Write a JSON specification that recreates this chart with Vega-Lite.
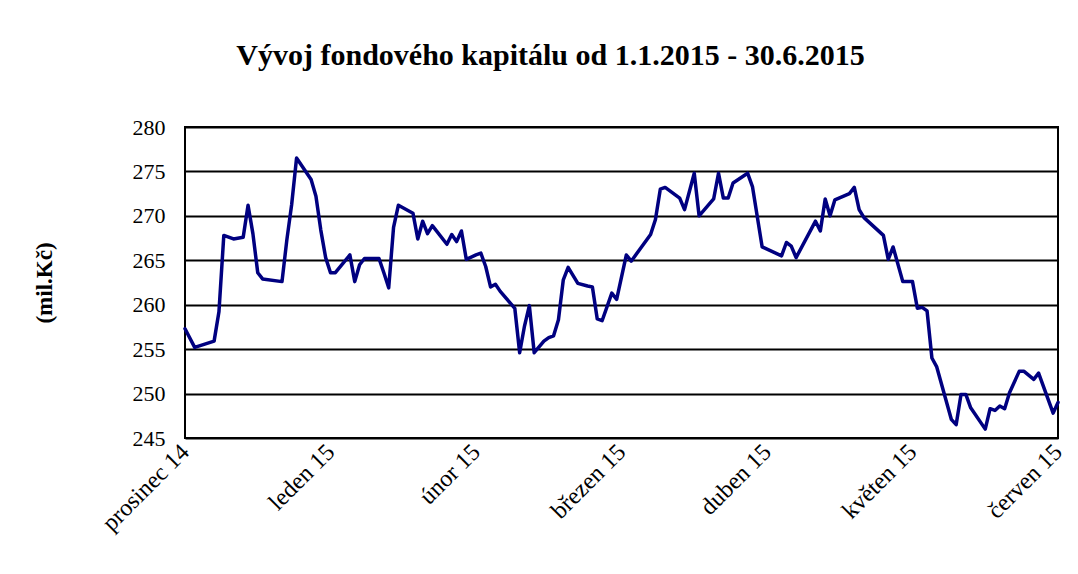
{
  "$schema": "https://vega.github.io/schema/vega-lite/v6.json",
  "width": 873,
  "height": 311,
  "autosize": {"type": "none"},
  "padding": {"left": 185, "top": 127, "right": 20, "bottom": 136},
  "background": "white",
  "title": {
    "text": "Vývoj fondového kapitálu od 1.1.2015 - 30.6.2015",
    "font": "Liberation Serif",
    "fontSize": 30,
    "fontWeight": "bold",
    "color": "black",
    "anchor": "middle",
    "frame": "group",
    "dx": -71,
    "offset": 45
  },
  "config": {
    "view": {"stroke": "black", "strokeWidth": 2},
    "font": "Liberation Serif"
  },
  "data": {
    "values": [
      {"den": "2015-01-01", "hodnota": 257.3},
      {"den": "2015-01-03", "hodnota": 255.2},
      {"den": "2015-01-07", "hodnota": 255.9},
      {"den": "2015-01-08", "hodnota": 259.2},
      {"den": "2015-01-09", "hodnota": 267.8},
      {"den": "2015-01-11", "hodnota": 267.4},
      {"den": "2015-01-13", "hodnota": 267.6},
      {"den": "2015-01-14", "hodnota": 271.2},
      {"den": "2015-01-15", "hodnota": 268.0},
      {"den": "2015-01-16", "hodnota": 263.6},
      {"den": "2015-01-17", "hodnota": 262.9},
      {"den": "2015-01-21", "hodnota": 262.6},
      {"den": "2015-01-22", "hodnota": 267.3},
      {"den": "2015-01-23", "hodnota": 271.3},
      {"den": "2015-01-24", "hodnota": 276.5},
      {"den": "2015-01-27", "hodnota": 274.1},
      {"den": "2015-01-28", "hodnota": 272.2},
      {"den": "2015-01-29", "hodnota": 268.4},
      {"den": "2015-01-30", "hodnota": 265.3},
      {"den": "2015-01-31", "hodnota": 263.6},
      {"den": "2015-02-01", "hodnota": 263.6},
      {"den": "2015-02-04", "hodnota": 265.6},
      {"den": "2015-02-05", "hodnota": 262.6},
      {"den": "2015-02-06", "hodnota": 264.5},
      {"den": "2015-02-07", "hodnota": 265.2},
      {"den": "2015-02-10", "hodnota": 265.2},
      {"den": "2015-02-11", "hodnota": 263.6},
      {"den": "2015-02-12", "hodnota": 261.9},
      {"den": "2015-02-13", "hodnota": 268.7},
      {"den": "2015-02-14", "hodnota": 271.2},
      {"den": "2015-02-17", "hodnota": 270.3},
      {"den": "2015-02-18", "hodnota": 267.4},
      {"den": "2015-02-19", "hodnota": 269.4},
      {"den": "2015-02-20", "hodnota": 268.0},
      {"den": "2015-02-21", "hodnota": 268.9},
      {"den": "2015-02-24", "hodnota": 266.8},
      {"den": "2015-02-25", "hodnota": 267.9},
      {"den": "2015-02-26", "hodnota": 267.1},
      {"den": "2015-02-27", "hodnota": 268.3},
      {"den": "2015-02-28", "hodnota": 265.1},
      {"den": "2015-03-02", "hodnota": 265.6},
      {"den": "2015-03-03", "hodnota": 265.8},
      {"den": "2015-03-04", "hodnota": 264.3},
      {"den": "2015-03-05", "hodnota": 262.0},
      {"den": "2015-03-06", "hodnota": 262.3},
      {"den": "2015-03-07", "hodnota": 261.5},
      {"den": "2015-03-10", "hodnota": 259.6},
      {"den": "2015-03-11", "hodnota": 254.6},
      {"den": "2015-03-12", "hodnota": 257.6},
      {"den": "2015-03-13", "hodnota": 259.9},
      {"den": "2015-03-14", "hodnota": 254.6},
      {"den": "2015-03-16", "hodnota": 255.9},
      {"den": "2015-03-17", "hodnota": 256.3},
      {"den": "2015-03-18", "hodnota": 256.5},
      {"den": "2015-03-19", "hodnota": 258.3},
      {"den": "2015-03-20", "hodnota": 262.8},
      {"den": "2015-03-21", "hodnota": 264.2},
      {"den": "2015-03-23", "hodnota": 262.4},
      {"den": "2015-03-25", "hodnota": 262.1},
      {"den": "2015-03-26", "hodnota": 262.0},
      {"den": "2015-03-27", "hodnota": 258.4},
      {"den": "2015-03-28", "hodnota": 258.2},
      {"den": "2015-03-30", "hodnota": 261.3},
      {"den": "2015-03-31", "hodnota": 260.6},
      {"den": "2015-04-02", "hodnota": 265.6},
      {"den": "2015-04-03", "hodnota": 264.9},
      {"den": "2015-04-07", "hodnota": 267.9},
      {"den": "2015-04-08", "hodnota": 269.6},
      {"den": "2015-04-09", "hodnota": 273.0},
      {"den": "2015-04-10", "hodnota": 273.2},
      {"den": "2015-04-13", "hodnota": 272.0},
      {"den": "2015-04-14", "hodnota": 270.7},
      {"den": "2015-04-16", "hodnota": 274.8},
      {"den": "2015-04-17", "hodnota": 270.0},
      {"den": "2015-04-20", "hodnota": 271.9},
      {"den": "2015-04-21", "hodnota": 274.8},
      {"den": "2015-04-22", "hodnota": 272.0},
      {"den": "2015-04-23", "hodnota": 272.0},
      {"den": "2015-04-24", "hodnota": 273.7},
      {"den": "2015-04-27", "hodnota": 274.8},
      {"den": "2015-04-28", "hodnota": 273.3},
      {"den": "2015-04-30", "hodnota": 266.5},
      {"den": "2015-05-04", "hodnota": 265.5},
      {"den": "2015-05-05", "hodnota": 267.0},
      {"den": "2015-05-06", "hodnota": 266.6},
      {"den": "2015-05-07", "hodnota": 265.3},
      {"den": "2015-05-11", "hodnota": 269.4},
      {"den": "2015-05-12", "hodnota": 268.3},
      {"den": "2015-05-13", "hodnota": 271.9},
      {"den": "2015-05-14", "hodnota": 270.0},
      {"den": "2015-05-15", "hodnota": 271.8},
      {"den": "2015-05-18", "hodnota": 272.5},
      {"den": "2015-05-19", "hodnota": 273.2},
      {"den": "2015-05-20", "hodnota": 270.7},
      {"den": "2015-05-21", "hodnota": 269.8},
      {"den": "2015-05-25", "hodnota": 267.8},
      {"den": "2015-05-26", "hodnota": 265.1},
      {"den": "2015-05-27", "hodnota": 266.5},
      {"den": "2015-05-29", "hodnota": 262.6},
      {"den": "2015-05-31", "hodnota": 262.6},
      {"den": "2015-06-01", "hodnota": 259.6},
      {"den": "2015-06-02", "hodnota": 259.7},
      {"den": "2015-06-03", "hodnota": 259.3},
      {"den": "2015-06-04", "hodnota": 254.0},
      {"den": "2015-06-05", "hodnota": 253.0},
      {"den": "2015-06-08", "hodnota": 247.1},
      {"den": "2015-06-09", "hodnota": 246.5},
      {"den": "2015-06-10", "hodnota": 249.9},
      {"den": "2015-06-11", "hodnota": 249.9},
      {"den": "2015-06-12", "hodnota": 248.4},
      {"den": "2015-06-15", "hodnota": 246.0},
      {"den": "2015-06-16", "hodnota": 248.3},
      {"den": "2015-06-17", "hodnota": 248.1},
      {"den": "2015-06-18", "hodnota": 248.6},
      {"den": "2015-06-19", "hodnota": 248.3},
      {"den": "2015-06-20", "hodnota": 250.1},
      {"den": "2015-06-22", "hodnota": 252.5},
      {"den": "2015-06-23", "hodnota": 252.5},
      {"den": "2015-06-25", "hodnota": 251.6},
      {"den": "2015-06-26", "hodnota": 252.3},
      {"den": "2015-06-29", "hodnota": 247.8},
      {"den": "2015-06-30", "hodnota": 249.0}
    ]
  },
  "mark": {"type": "line", "color": "#000080", "strokeWidth": 3.5, "strokeJoin": "round", "strokeCap": "round"},
  "encoding": {
    "x": {
      "field": "den",
      "type": "temporal",
      "scale": {
        "type": "utc",
        "domain": [
          {"year": 2015, "month": 1, "date": 1, "utc": true},
          {"year": 2015, "month": 6, "date": 30, "utc": true}
        ]
      },
      "axis": {
        "values": [
          {"year": 2015, "month": 1, "date": 1, "utc": true},
          {"year": 2015, "month": 1, "date": 31, "utc": true},
          {"year": 2015, "month": 3, "date": 2, "utc": true},
          {"year": 2015, "month": 4, "date": 1, "utc": true},
          {"year": 2015, "month": 5, "date": 1, "utc": true},
          {"year": 2015, "month": 5, "date": 31, "utc": true},
          {"year": 2015, "month": 6, "date": 30, "utc": true}
        ],
        "labelExpr": "['prosinec 14','leden 15','únor 15','březen 15','duben 15','květen 15','červen 15'][round((datum.value - utc(2015,0,1))/2592000000)]",
        "labelAngle": -45,
        "labelAlign": "right",
        "labelBaseline": "middle",
        "labelFont": "Liberation Serif",
        "labelFontSize": 24,
        "labelColor": "black",
        "labelPadding": 10,
        "labelOverlap": false,
        "labelFlush": false,
        "labelBound": false,
        "ticks": false,
        "domain": false,
        "grid": false,
        "title": null
      }
    },
    "y": {
      "field": "hodnota",
      "type": "quantitative",
      "scale": {"domain": [245, 280], "nice": false, "zero": false},
      "axis": {
        "values": [245, 250, 255, 260, 265, 270, 275, 280],
        "grid": true,
        "gridColor": "black",
        "gridWidth": 2,
        "gridOpacity": 1,
        "ticks": false,
        "domain": false,
        "labelFont": "Liberation Serif",
        "labelFontSize": 22,
        "labelColor": "black",
        "labelPadding": 20,
        "labelFlush": false,
        "title": "(mil.Kč)",
        "titleFont": "Liberation Serif",
        "titleFontSize": 23,
        "titleFontWeight": "bold",
        "titleColor": "black",
        "titlePadding": 76
      }
    }
  }
}
